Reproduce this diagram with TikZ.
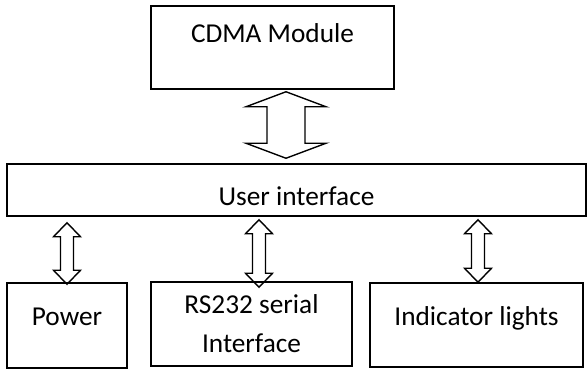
\documentclass[tikz,border=0pt]{standalone}
\usepackage{fontspec}
\setmainfont{Carlito}
\usetikzlibrary{calc}
\newcommand\dblarrow[5]{%
\draw[arrowline] let \p1=(#1), \p2=(#2) in
  (\x1,\y1) -- (\x1+#3pt,\y1-#5pt) -- (\x1+#4pt,\y1-#5pt) -- (\x1+#4pt,\y2+#5pt)
  -- (\x1+#3pt,\y2+#5pt) -- (\x1,\y2) -- (\x1-#3pt,\y2+#5pt) -- (\x1-#4pt,\y2+#5pt)
  -- (\x1-#4pt,\y1-#5pt) -- (\x1-#3pt,\y1-#5pt) -- cycle;
}

\begin{document}
\begin{tikzpicture}[x=1pt,y=-1pt,
    box/.style={draw, line width=1.5pt, inner sep=0pt, align=center,
      font=\fontsize{27.3}{39}\selectfont},
    arrowline/.style={line width=1.4pt, line join=miter}]
	\useasboundingbox (0,0) rectangle (587,369);

	%% blocks
	\node[box, minimum width=243pt, text height=37pt, text depth=46pt] (cdma) at (272.5,47.5) {CDMA Module};
	\node[box, minimum width=579pt, text height=41pt, text depth=11pt] (ui) at (296.5,190) {User interface};
	\node[box, minimum width=120pt, text height=42pt, text depth=43pt] (pw) at (67,325.5) {Power};
	\node[box, minimum width=201pt, minimum height=84pt] (rs) at (251.5,324) {RS232 serial\\Interface};
	\node[box, minimum width=213pt, text height=42pt, text depth=42pt] (ind) at (476.5,325) {Indicator lights};

	%% arrow ends
	\coordinate (cdmaT) at ([xshift=13.5pt,yshift=-2pt]cdma.south);
	\coordinate (cdmaB) at ($(cdmaT |- ui.north)+(0,5pt)$);
	\coordinate (pwT) at ($(pw.north |- ui.south)+(0,-6pt)$);
	\coordinate (pwB) at ([yshift=-2pt]pw.north);
	\coordinate (rsT) at ($([xshift=7.5pt]rs.north |- ui.south)+(0,-3pt)$);
	\coordinate (rsB) at ([xshift=7.5pt,yshift=-6pt]rs.north);
	\coordinate (indT) at ($([xshift=1.5pt]ind.north |- ui.south)+(0,-3pt)$);
	\coordinate (indB) at ([xshift=1.5pt]ind.north);

	%% double arrows
	\dblarrow{cdmaT}{cdmaB}{40}{19}{15}
	\dblarrow{pwT}{pwB}{13.5}{6.5}{14}
	\dblarrow{rsT}{rsB}{13.5}{6.5}{14}
	\dblarrow{indT}{indB}{13.5}{6.5}{14}
\end{tikzpicture}
\end{document}
